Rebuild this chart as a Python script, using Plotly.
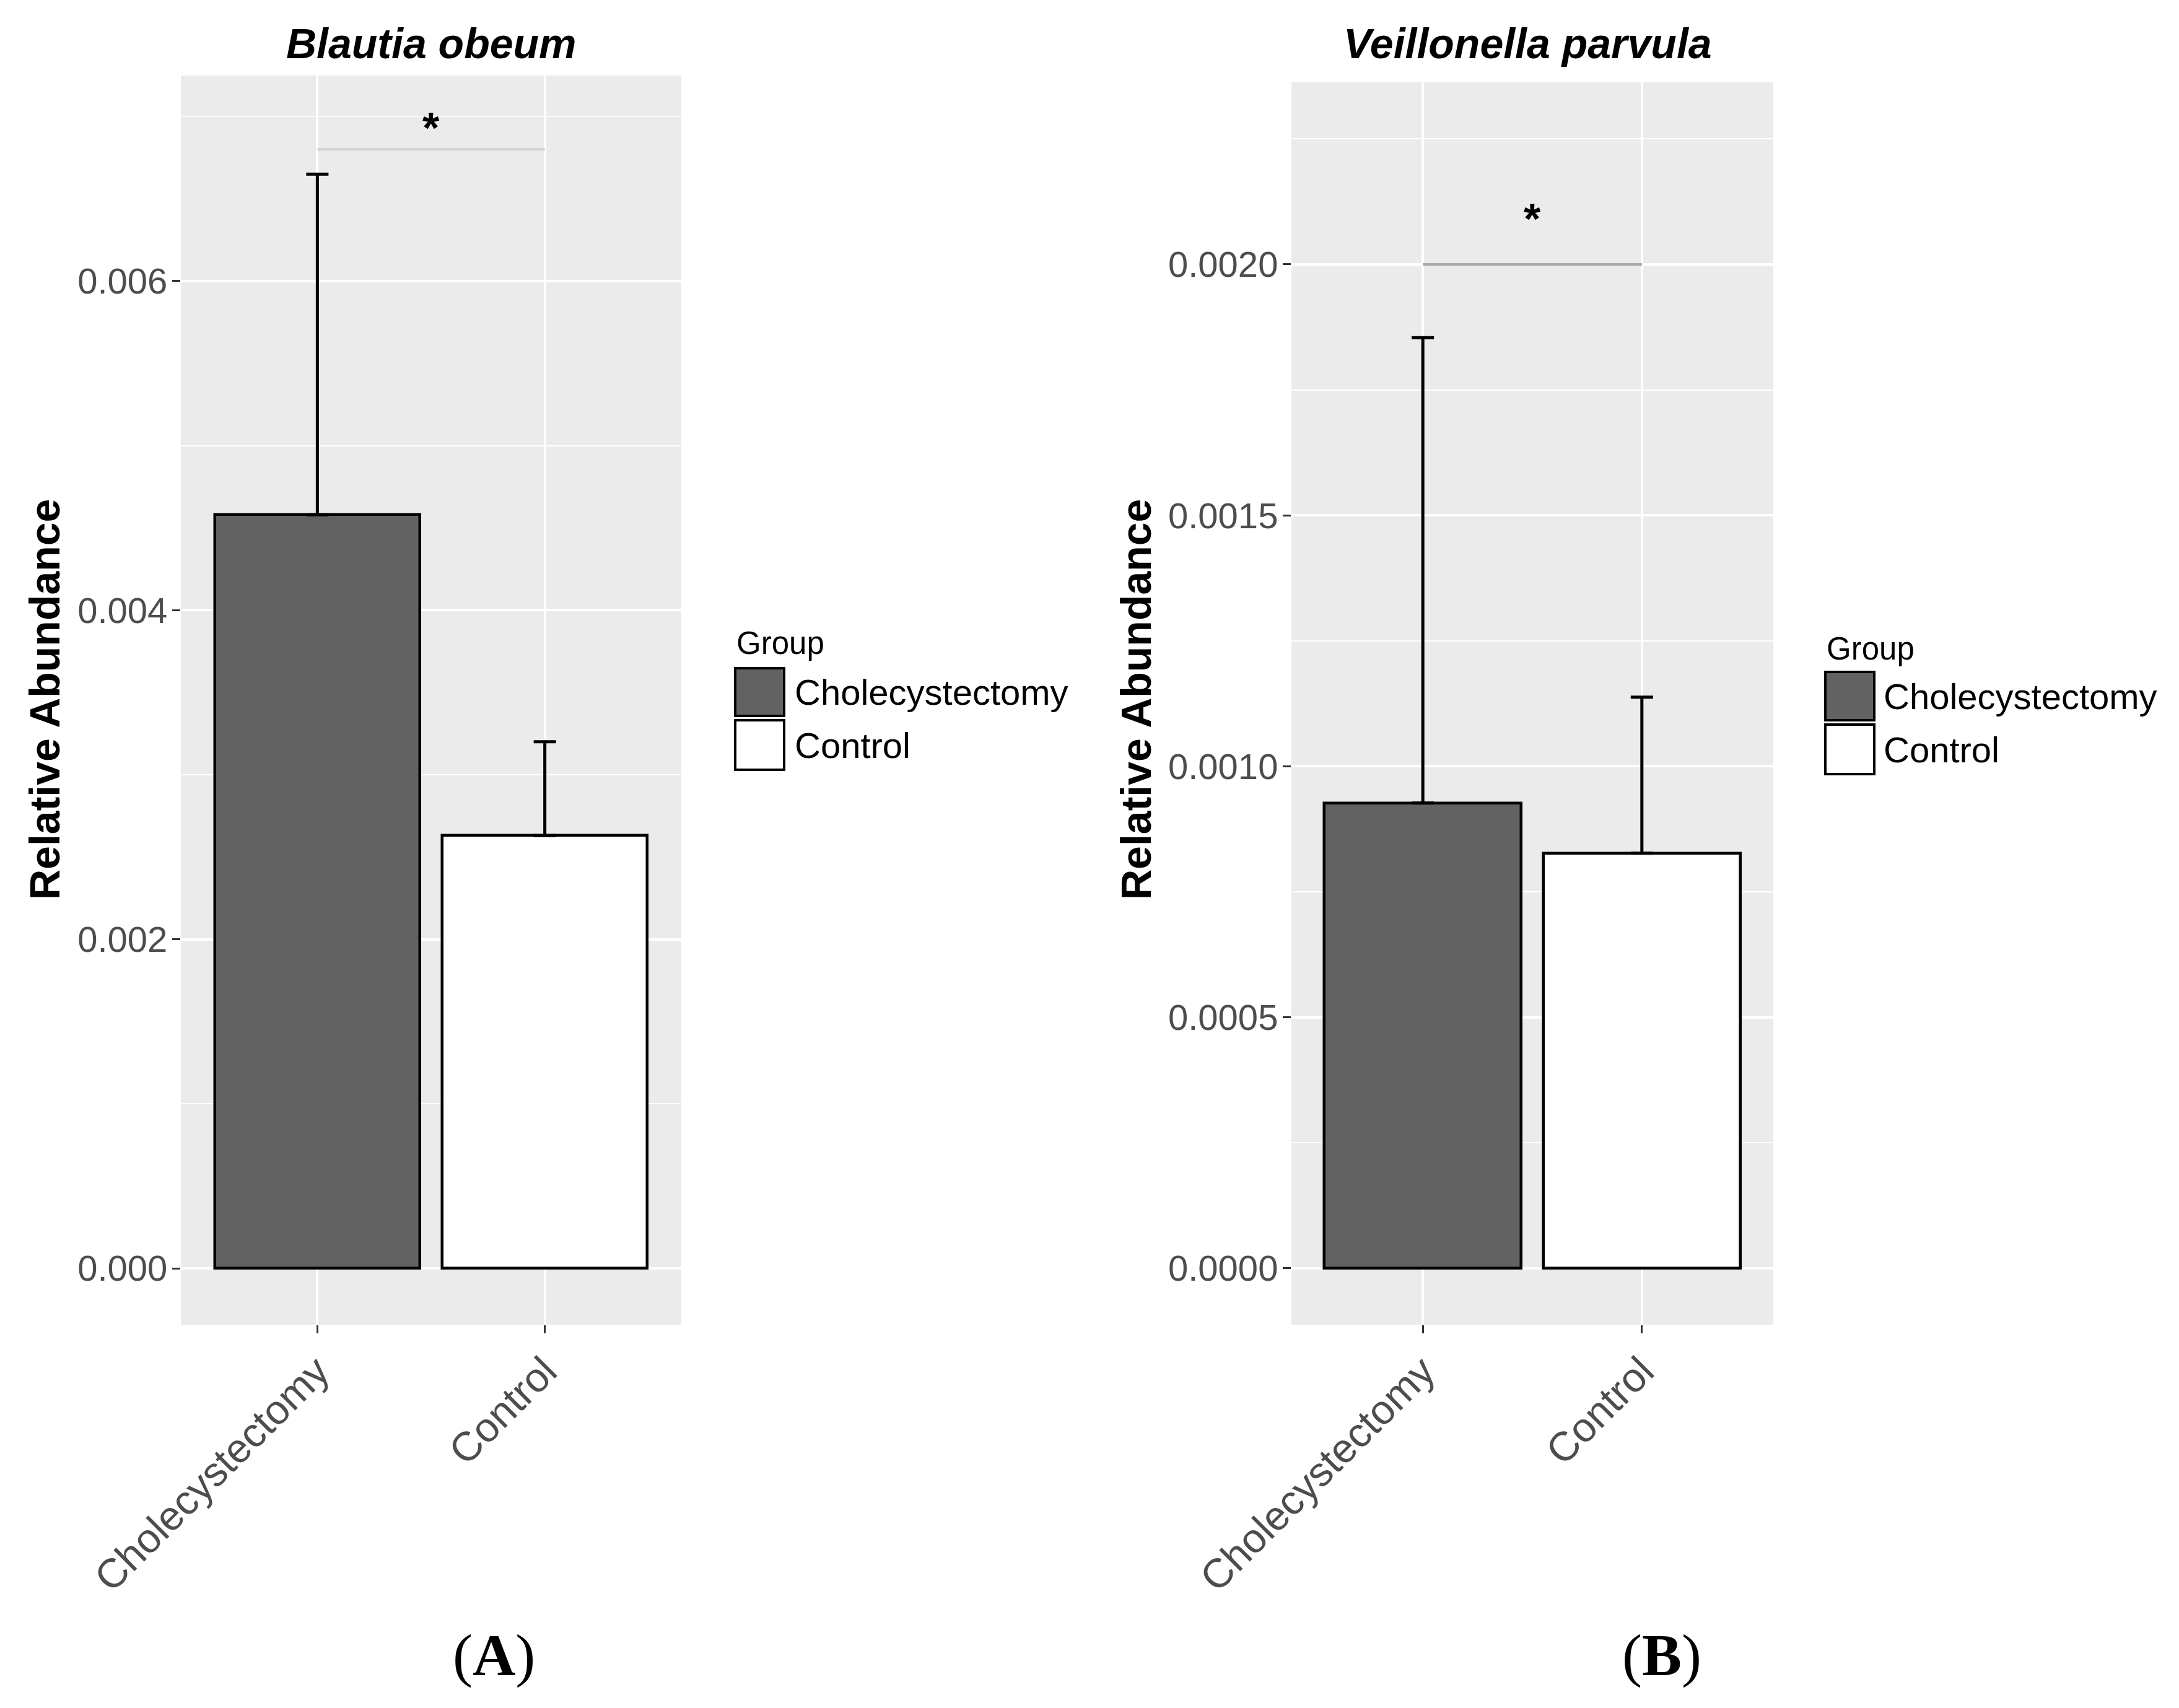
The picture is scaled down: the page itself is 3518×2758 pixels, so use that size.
import plotly.graph_objects as go

# categories and fills
groups = ["Cholecystectomy", "Control"]
group_fill = ["#626262", "#FFFFFF"]

# panel A - Blautia obeum
blautia_mean = [0.00458, 0.00263]
blautia_sd = [0.00207, 0.00057]
blautia_sig = 0.00680
blautia_star = 0.00693
blautia_ticks = [0.000, 0.002, 0.004, 0.006]
blautia_ticktext = ["0.000", "0.002", "0.004", "0.006"]

# panel B - Veillonella parvula
veill_mean = [0.000927, 0.000827]
veill_sd = [0.000927, 0.000311]
veill_sig = 0.00200
veill_star = 0.00209
veill_ticks = [0.0000, 0.0005, 0.0010, 0.0015, 0.0020]
veill_ticktext = ["0.0000", "0.0005", "0.0010", "0.0015", "0.0020"]

W, H = 3518, 2758
SANS = "Liberation Sans"


def fx(p):
    return p / W


def fy(p):
    return 1 - p / H


fig = go.Figure()

panels = [
    dict(xa="x", ya="y", mean=blautia_mean, sd=blautia_sd, sig=blautia_sig, star=blautia_star, sigcolor="#D2D2D2"),
    dict(xa="x2", ya="y2", mean=veill_mean, sd=veill_sd, sig=veill_sig, star=veill_star, sigcolor="#A8A8A8"),
]

for p in panels:
    fig.add_trace(go.Bar(
        x=groups, y=p["mean"], width=0.9,
        marker=dict(color=group_fill, line=dict(color="black", width=4.5)),
        error_y=dict(type="data", symmetric=False, array=p["sd"], arrayminus=[0, 0],
                     color="black", thickness=5, width=18),
        xaxis=p["xa"], yaxis=p["ya"], showlegend=False, hoverinfo="y",
    ))
    fig.add_trace(go.Scatter(
        x=groups, y=[p["sig"], p["sig"]], mode="lines",
        line=dict(color=p["sigcolor"], width=4),
        xaxis=p["xa"], yaxis=p["ya"], showlegend=False, hoverinfo="skip",
    ))
    fig.add_annotation(x=0.5, y=p["star"], xref=p["xa"], yref=p["ya"], text="<b>*</b>",
                       showarrow=False, font=dict(family=SANS, size=70, color="black"),
                       yanchor="middle")

xcommon = dict(
    type="category", range=[-0.6, 1.6], showgrid=True, gridcolor="white", gridwidth=4,
    ticks="outside", ticklen=13, tickwidth=3, tickcolor="#333333", tickangle=-45,
    ticklabelstandoff=-4,
    tickfont=dict(family=SANS, size=66, color="#4D4D4D"), showline=False, zeroline=False,
    fixedrange=True, automargin=False,
)
ycommon = dict(
    showgrid=True, gridcolor="white", gridwidth=4, zeroline=False, showline=False,
    ticks="outside", ticklen=13, tickwidth=3, tickcolor="#333333", ticklabelstandoff=-4,
    tickfont=dict(family=SANS, size=58, color="#4D4D4D"), fixedrange=True, automargin=False,
)

fig.update_layout(
    width=W, height=H,
    margin=dict(l=0, r=0, t=0, b=0, autoexpand=False),
    paper_bgcolor="white", plot_bgcolor="#EBEBEB",
    bargap=0,
    xaxis=dict(domain=[fx(292), fx(1100)], anchor="y", **xcommon),
    yaxis=dict(domain=[fy(2139), fy(122)], anchor="x", range=[-0.0003425, 0.007249],
               tickvals=blautia_ticks, ticktext=blautia_ticktext,
               minor=dict(dtick=0.001, tick0=0, showgrid=True, gridcolor="white", gridwidth=2),
               **ycommon),
    xaxis2=dict(domain=[fx(2085), fx(2863)], anchor="y2", **xcommon),
    yaxis2=dict(domain=[fy(2139), fy(133)], anchor="x2", range=[-0.0001123, 0.0023627],
                tickvals=veill_ticks, ticktext=veill_ticktext,
                minor=dict(dtick=0.00025, tick0=0, showgrid=True, gridcolor="white", gridwidth=2),
                **ycommon),
)

# panel titles, y titles and panel letters
titles = [("Blautia obeum", 696), ("Veillonella parvula", 2466)]
for text, cx in titles:
    fig.add_annotation(x=fx(cx), y=fy(70), xref="paper", yref="paper", text=f"<b><i>{text}</i></b>",
                       showarrow=False, font=dict(family=SANS, size=68, color="black"),
                       xanchor="center", yanchor="middle")

for cx in [72, 1834]:
    fig.add_annotation(x=fx(cx), y=fy(1130), xref="paper", yref="paper", text="<b>Relative Abundance</b>",
                       textangle=-90, showarrow=False, font=dict(family=SANS, size=68, color="black"),
                       xanchor="center", yanchor="middle")

for letter, cx in [("A", 797), ("B", 2683)]:
    fig.add_annotation(x=fx(cx), y=fy(2672), xref="paper", yref="paper", text=f"(<b>{letter}</b>)",
                       showarrow=False, font=dict(family="Liberation Serif", size=96, color="black"),
                       xanchor="center", yanchor="middle")

# legends drawn by hand so the keys keep ggplot's size
legends = [
    dict(left=1187, title_y=1039, rows=[(1079, 1156), (1163, 1243)], text_x=1281),
    dict(left=2947, title_y=1047, rows=[(1085, 1163), (1170, 1250)], text_x=3039),
]
for lg in legends:
    fig.add_annotation(x=fx(lg["left"]), y=fy(lg["title_y"]), xref="paper", yref="paper", text="Group",
                       showarrow=False, font=dict(family=SANS, size=51, color="black"),
                       xanchor="left", yanchor="middle")
    for (top, bot), name, fill in zip(lg["rows"], groups, group_fill):
        fig.add_shape(type="rect", xref="paper", yref="paper",
                      x0=fx(lg["left"]), x1=fx(lg["left"] + 79), y0=fy(bot), y1=fy(top),
                      fillcolor=fill, line=dict(color="black", width=4))
        fig.add_annotation(x=fx(lg["text_x"]), y=fy((top + bot) / 2), xref="paper", yref="paper",
                           text=name, showarrow=False, font=dict(family=SANS, size=58, color="black"),
                           xanchor="left", yanchor="middle")

# drop the page's default body margin so the figure sits at the top-left corner
fig.write_html("out.html", config={"displayModeBar": False},
               post_script="document.body.style.margin='0px';")
